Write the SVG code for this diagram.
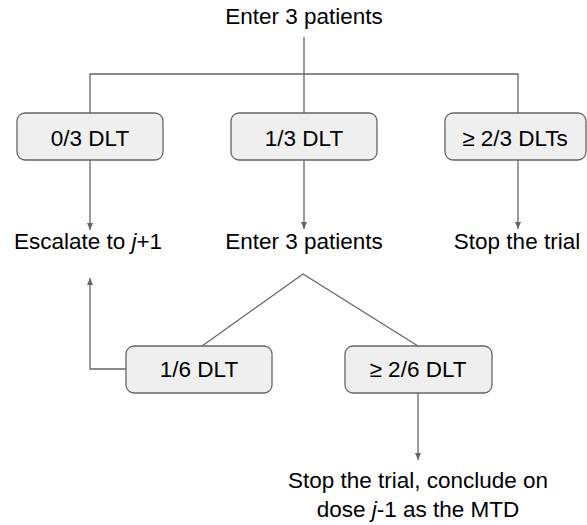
<svg xmlns="http://www.w3.org/2000/svg" width="587" height="525" viewBox="0 0 587 525">
<style>
text{font-family:"Liberation Sans",Arial,sans-serif;font-size:22.5px;fill:#000;text-anchor:middle}
.box{fill:#efefef;stroke:#666;stroke-width:1.3}
.ln{fill:none;stroke:#666;stroke-width:1.3}
.ar{marker-end:url(#ah)}
.i{font-style:italic}
</style>
<defs>
<marker id="ah" markerUnits="userSpaceOnUse" markerWidth="8" markerHeight="6" refX="7" refY="3" orient="auto">
<path d="M0,0 L7,3 L0,6 z" fill="#666"/>
</marker>
</defs>
<rect width="587" height="525" fill="#fff"/>
<g id="connectors">
<path class="ln" d="M304,37 V113"/>
<path class="ln" d="M90,113 V74 H518 V113"/>
<path class="ln ar" d="M90,160 V230"/>
<path class="ln ar" d="M304,160 V229"/>
<path class="ln ar" d="M518,160 V229"/>
<path class="ln" d="M202,346 L303,274 L418,346"/>
<path class="ln ar" d="M126,369 H90 V278"/>
<path class="ln ar" d="M418,393 V460"/>
</g>
<g id="start"><text x="304" y="24">Enter 3 patients</text></g>
<g id="b03"><rect class="box" x="17" y="113" width="146" height="47" rx="8"/><text x="90" y="146">0/3 DLT</text></g>
<g id="b13"><rect class="box" x="231" y="113" width="146" height="47" rx="8"/><text x="304" y="146">1/3 DLT</text></g>
<g id="b23"><rect class="box" x="445" y="113" width="141" height="47" rx="8"/><text x="515" y="146">≥ 2/3 DLTs</text></g>
<g id="escalate"><text x="88" y="249">Escalate to <tspan class="i">j</tspan>+1</text></g>
<g id="enter2"><text x="304" y="249">Enter 3 patients</text></g>
<g id="stop"><text x="517" y="249">Stop the trial</text></g>
<g id="b16"><rect class="box" x="126" y="346" width="146" height="47" rx="8"/><text x="199" y="377">1/6 DLT</text></g>
<g id="b26"><rect class="box" x="345" y="346" width="147" height="47" rx="8"/><text x="418" y="377">≥ 2/6 DLT</text></g>
<g id="conclude"><text x="418" y="488">Stop the trial, conclude on</text><text x="418" y="516.5">dose <tspan class="i">j</tspan>-1 as the MTD</text></g>
</svg>
